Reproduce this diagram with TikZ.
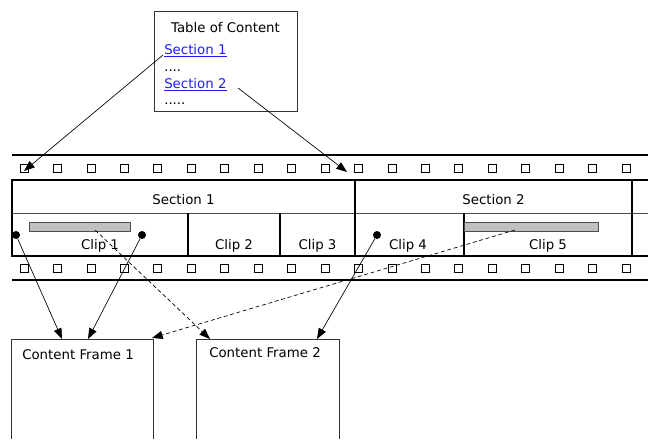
\documentclass[tikz,border=0pt]{standalone}
\usepackage{fontspec}
\setmainfont{DejaVu Sans}
\usetikzlibrary{arrows.meta}
\definecolor{linkblue}{RGB}{30,30,240}
\definecolor{bargray}{RGB}{192,192,192}

\begin{document}
\begin{tikzpicture}[x=0.75pt,y=-0.75pt,font=\fontsize{10}{12}\selectfont,
    txt/.style={inner sep=0pt, anchor=base west},
    ctxt/.style={inner sep=0pt, anchor=base},
    hole/.style={draw, line width=0.6pt, minimum size=6pt, inner sep=0pt},
    pin/.style={circle, fill, inner sep=0pt, minimum size=6pt},
    tip/.style={-{Triangle[length=8pt,width=6pt]}, line width=0.5pt},
    clipbar/.style={draw=black!70, fill=bargray, line width=0.6pt}]
    \useasboundingbox (0,0) rectangle (648,439);
    % table of content
    \draw[line width=0.6pt, black!80] (154,11) rectangle (297,111);
    \node[ctxt] (toctitle) at (225.5,32) {Table of Content};
    \node[txt, text=linkblue] (sec1link) at (164,54) {\underline{Section 1}};
    \node[txt] (dots1) at (164,71) {....};
    \node[txt, text=linkblue] (sec2link) at (164,88) {\underline{Section 2}};
    \node[txt] (dots2) at (164,104) {.....};
    \coordinate (sec1from) at (163,55);
    \coordinate (sec2from) at (238,88);
    % film strip: rails and sprocket holes
    \draw[line width=1.6pt] (12,155) -- (648,155);
    \draw[line width=1.6pt] (12,280) -- (648,280);
    \foreach \i in {0,...,18} {
      \node[hole] (up\i) at (24+33.45*\i,168) {};
      \node[hole] (dn\i) at (24+33.45*\i,268) {};
    }
    \coordinate (sec1to) at (24,171);
    \coordinate (sec2to) at (347,172);
    % sections and clips
    \draw[line width=1.1pt] (648,180) -- (12,180) -- (12,256) -- (648,256);
    \draw[line width=0.7pt, black!70] (12,213) -- (648,213);
    \draw[line width=1.1pt] (355,180) -- (355,256);
    \draw[line width=1.1pt] (632,180) -- (632,256);
    \foreach \x in {188,280,464}
      \draw[line width=1.1pt] (\x,213) -- (\x,256);
    \node[ctxt] (section1) at (183.5,204) {Section 1};
    \node[ctxt] (section2) at (493.5,204) {Section 2};
    \node[ctxt] (clip1) at (100,249) {Clip 1};
    \node[ctxt] (clip2) at (234,249) {Clip 2};
    \node[ctxt] (clip3) at (317.5,249) {Clip 3};
    \node[ctxt] (clip4) at (408,249) {Clip 4};
    \node[ctxt] (clip5) at (548,249) {Clip 5};
    % highlighted spans and anchor points
    \draw[clipbar] (29,222) rectangle (130,231);
    \draw[clipbar] (464,222) rectangle (598,231);
    \coordinate (bar1) at (95,230);
    \coordinate (bar5) at (515,230);
    \node[pin] (pin1) at (16,235) {};
    \node[pin] (pin2) at (142,235) {};
    \node[pin] (pin4) at (377,235) {};
    % content frames, cut off by the page edge
    \draw[line width=0.6pt, black!80] (11,439) -- (11,339) -- (153,339) -- (153,439);
    \draw[line width=0.6pt, black!80] (196,439) -- (196,339) -- (339,339) -- (339,439);
    \node[txt] (frame1) at (22,359) {Content Frame 1};
    \node[txt] (frame2) at (209,357) {Content Frame 2};
    \coordinate (f1a) at (62,339);
    \coordinate (f1b) at (88,339);
    \coordinate (f1c) at (152,338);
    \coordinate (f2a) at (210,339);
    \coordinate (f2b) at (317,339);
    % links
    \draw[tip] (sec1from) -- (sec1to);
    \draw[tip] (sec2from) -- (sec2to);
    \draw[tip] (pin1) -- (f1a);
    \draw[tip] (pin2) -- (f1b);
    \draw[tip] (pin4) -- (f2b);
    \draw[tip, dash pattern=on 3pt off 2pt] (bar1) -- (f2a);
    \draw[tip, dash pattern=on 3pt off 2pt] (bar5) -- (f1c);
\end{tikzpicture}
\end{document}
